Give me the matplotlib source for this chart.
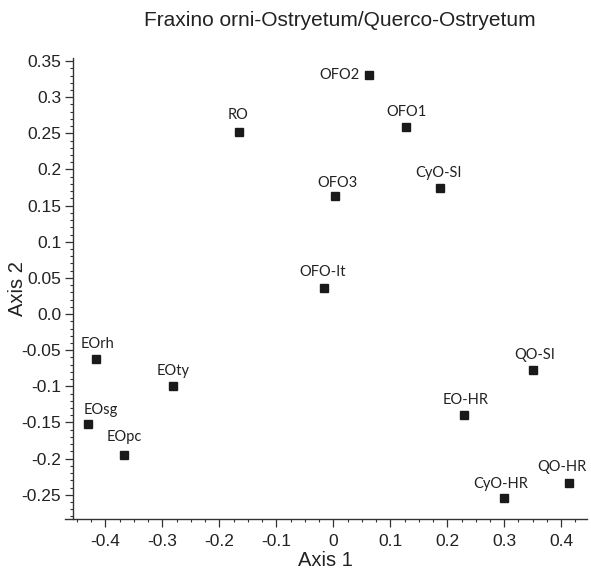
import matplotlib
matplotlib.use("Agg")
import matplotlib.pyplot as plt
from matplotlib.ticker import MultipleLocator, FixedLocator, FixedFormatter

# ── Data ──────────────────────────────────────────────────
sites = ["OFO2", "OFO1", "RO", "CyO-SI", "OFO3", "OFO-It", "EOrh", "EOty",
         "EOsg", "EOpc", "QO-SI", "EO-HR", "QO-HR", "CyO-HR"]
axis1 = [0.063, 0.127, -0.166, 0.187, 0.003, -0.016, -0.417, -0.282,
         -0.430, -0.367, 0.351, 0.230, 0.413, 0.300]
axis2 = [0.331, 0.259, 0.252, 0.175, 0.163, 0.036, -0.062, -0.099,
         -0.152, -0.195, -0.078, -0.140, -0.234, -0.255]

y_ticks = [0.35, 0.3, 0.25, 0.2, 0.15, 0.1, 0.05, 0.0,
           -0.05, -0.1, -0.15, -0.2, -0.25]
y_tick_labels = ["0.35", "0.3", "0.25", "0.2", "0.15", "0.1", "0.05", "0.0",
                 "-0.05", "-0.1", "-0.15", "-0.2", "-0.25"]
x_ticks = [-0.4, -0.3, -0.2, -0.1, 0.0, 0.1, 0.2, 0.3, 0.4]
x_tick_labels = ["-0.4", "-0.3", "-0.2", "-0.1", "0", "0.1", "0.2", "0.3", "0.4"]

# label offsets from marker, in pixels (dx, dy)
label_offsets = {
    "OFO2": (-30, 0), "OFO1": (1, 15), "RO": (-1, 17), "CyO-SI": (-1, 15),
    "OFO3": (2, 13), "OFO-It": (-2, 16), "EOrh": (2, 15), "EOty": (0, 15),
    "EOsg": (12, 14), "EOpc": (0, 18), "QO-SI": (1, 15), "EO-HR": (1, 15),
    "QO-HR": (-7, 16), "CyO-HR": (-4, 14),
}

tick_font = ["Liberation Sans Narrow", "Liberation Sans", "DejaVu Sans"]
text_font = ["Liberation Sans", "DejaVu Sans"]
point_font = ["Lato", "DejaVu Sans"]

# ── Layout ────────────────────────────────────────────────
fig = plt.figure(figsize=(5.91, 5.76), dpi=100, facecolor="white")
ax = fig.add_axes([0.110, 0.099, 0.883, 0.800])

ax.plot(axis1, axis2, linestyle="none", marker="s", markersize=5.8,
        color="#1a1a1a", zorder=3)

for name, x, y in zip(sites, axis1, axis2):
    dx, dy = label_offsets[name]
    ax.annotate(name, (x, y), xytext=(dx, dy), textcoords="offset pixels",
                ha="center", va="center", fontsize=10.5,
                family=point_font, color="#222222")

ax.set_xlim(-0.471, 0.445)
ax.set_ylim(-0.2835, 0.354)

for s in ("top", "right"):
    ax.spines[s].set_visible(False)
ax.spines["left"].set_position(("data", -0.457))
for s in ("left", "bottom"):
    ax.spines[s].set_linewidth(1.0)
    ax.spines[s].set_color("#333333")

ax.yaxis.set_major_locator(FixedLocator(y_ticks))
ax.yaxis.set_major_formatter(FixedFormatter(y_tick_labels))
ax.yaxis.set_minor_locator(MultipleLocator(0.01))
ax.xaxis.set_major_locator(FixedLocator(x_ticks))
ax.xaxis.set_major_formatter(FixedFormatter(x_tick_labels))
ax.xaxis.set_minor_locator(MultipleLocator(0.025))

ax.tick_params(which="major", length=5.5, width=0.9, color="#333333",
               labelsize=12.5, labelcolor="#222222", pad=3)
ax.tick_params(axis="x", which="major", pad=5)
ax.tick_params(which="minor", length=2.5, width=0.8, color="#333333")
for lbl in ax.get_xticklabels() + ax.get_yticklabels():
    lbl.set_family(tick_font)

ax.set_xlabel("Axis 1", fontsize=14.5, family=text_font, color="#222222",
              labelpad=2)
ax.set_ylabel("Axis 2", fontsize=14.5, family=text_font, color="#222222")
ax.yaxis.set_label_coords(-0.072, 0.5)

fig.text(0.575, 0.965, "Fraxino orni-Ostryetum/Querco-Ostryetum",
         ha="center", va="center", fontsize=15, family=text_font,
         color="#222222")

fig.savefig("out.png", dpi=100, facecolor="white")
